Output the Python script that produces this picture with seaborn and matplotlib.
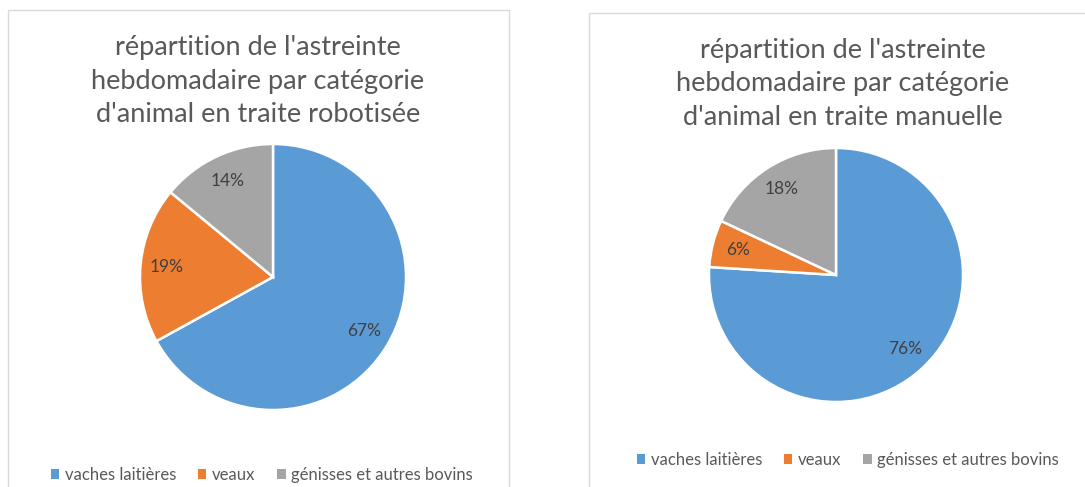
import matplotlib
matplotlib.use("Agg")
import matplotlib.pyplot as plt
from matplotlib.patches import Rectangle
import seaborn as sns

sns.set_theme(style="white")
plt.rcParams['font.family'] = ['Lato', 'DejaVu Sans']

# data
categories = ["vaches laitières", "veaux", "génisses et autres bovins"]
robot_values = [67, 19, 14]
manual_values = [76, 6, 18]
titles = ["répartition de l'astreinte\nhebdomadaire par catégorie\nd'animal en traite robotisée",
          "répartition de l'astreinte\nhebdomadaire par catégorie\nd'animal en traite manuelle"]

colors = sns.color_palette(["#5B9BD5", "#ED7D31", "#A5A5A5"])
W, H = 1085, 487

fig = plt.figure(figsize=(W / 100, H / 100), dpi=100)
fig.patch.set_facecolor("white")

# panel borders (pixels)
fig.patches.append(Rectangle((8 / W, -0.02), 501 / W, (H - 10) / H + 0.02, transform=fig.transFigure,
                             fill=False, edgecolor="#D9D9D9", linewidth=1))
fig.patches.append(Rectangle((589 / W, -0.02), 0.6, (H - 13) / H + 0.02, transform=fig.transFigure,
                             fill=False, edgecolor="#D9D9D9", linewidth=1))

panels = [
    dict(values=robot_values, title=titles[0], cx=273, cy=277, r=133, tx=258, ty=81, lx=262, ly=475),
    dict(values=manual_values, title=titles[1], cx=836, cy=275, r=127, tx=843, ty=84, lx=848, ly=460),
]

for p in panels:
    ax = fig.add_axes([(p["cx"] - p["r"]) / W, (H - p["cy"] - p["r"]) / H, 2 * p["r"] / W, 2 * p["r"] / H])
    wedges, _, autotexts = ax.pie(p["values"], colors=colors, startangle=90, counterclock=False,
                                  autopct='%1.0f%%', pctdistance=0.8,
                                  wedgeprops=dict(edgecolor="white", linewidth=1.8))
    for t in autotexts:
        t.set_color("#404040")
        t.set_fontsize(12.5)
    ax.set_xlim(-1, 1)
    ax.set_ylim(-1, 1)
    ax.axis("off")

    fig.text(p["tx"] / W, 1 - p["ty"] / H, p["title"], ha="center", va="center",
             fontsize=19.5, color="#595959", linespacing=1.42)

    leg = ax.legend(wedges, categories, loc="center", ncol=3, frameon=False,
                    bbox_to_anchor=(p["lx"] / W, 1 - p["ly"] / H), bbox_transform=fig.transFigure,
                    handlelength=0.5, handleheight=0.5, handletextpad=0.35, columnspacing=1.3,
                    fontsize=12.0, labelcolor="#595959")
    for h in leg.legend_handles:
        h.set_edgecolor("none")

fig.savefig("out.png", dpi=100, facecolor="white")
